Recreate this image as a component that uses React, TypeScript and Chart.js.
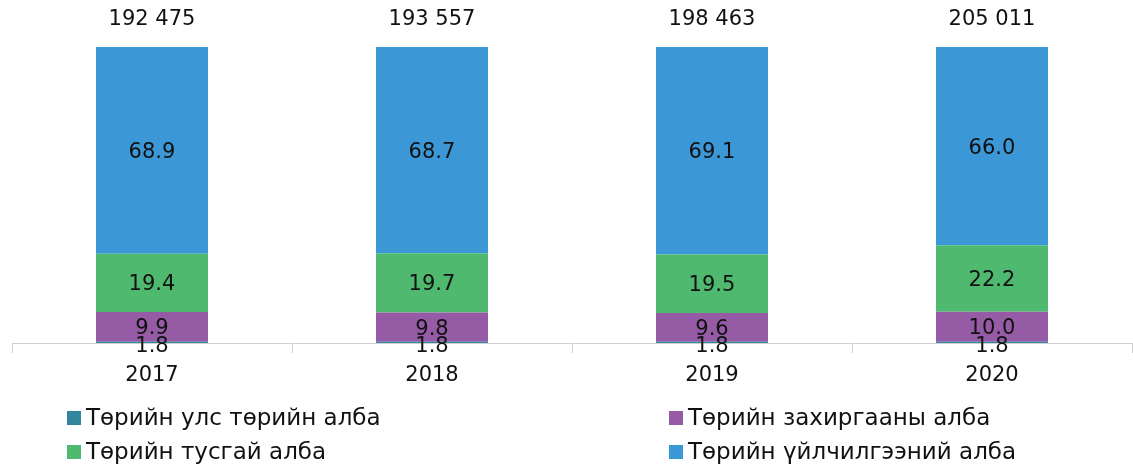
import React, { useEffect, useRef } from "react";
import { Chart, registerables } from "chart.js";

Chart.register(...registerables);

const categories = ["2017", "2018", "2019", "2020"];
const totals = ["192 475", "193 557", "198 463", "205 011"];
const seriesNames = [
  "Төрийн улс төрийн алба",
  "Төрийн захиргааны алба",
  "Төрийн тусгай алба",
  "Төрийн үйлчилгээний алба",
];
const politicalService = [1.8, 1.8, 1.8, 1.8];
const administrativeService = [9.9, 9.8, 9.6, 10.0];
const specialService = [19.4, 19.7, 19.5, 22.2];
const publicService = [68.9, 68.7, 69.1, 66.0];
const seriesColors = ["#31859C", "#955BA5", "#4FBA6F", "#3C97D6"];

const FONT = "'DejaVu Sans', 'Noto Sans', sans-serif";
const TEXT = "#111111";

const labelsPlugin = {
  id: "labelsPlugin",
  afterDatasetsDraw(chart: any) {
    const ctx = chart.ctx;
    ctx.save();
    ctx.font = `21px ${FONT}`;
    ctx.fillStyle = TEXT;
    ctx.textAlign = "center";
    ctx.textBaseline = "middle";
    chart.data.datasets.forEach((ds: any, di: number) => {
      const meta = chart.getDatasetMeta(di);
      meta.data.forEach((bar: any, i: number) => {
        const v = ds.data[i];
        const y = (bar.y + bar.base) / 2;
        ctx.fillText(v.toFixed(1), bar.x, y + 2);
      });
    });
    const lastMeta = chart.getDatasetMeta(chart.data.datasets.length - 1);
    lastMeta.data.forEach((bar: any, i: number) => {
      ctx.fillText(totals[i], bar.x, bar.y - 27);
    });
    ctx.restore();
  },
};

const legendPlugin = {
  id: "customLegend",
  afterDraw(chart: any) {
    const ctx = chart.ctx;
    ctx.save();
    ctx.font = `23px ${FONT}`;
    ctx.textBaseline = "middle";
    ctx.textAlign = "left";
    const cols = [67, 669];
    const rows = [418, 452];
    chart.data.datasets.forEach((ds: any, i: number) => {
      const x = cols[i % 2];
      const y = rows[Math.floor(i / 2)];
      ctx.fillStyle = ds.backgroundColor;
      ctx.fillRect(x, y - 7, 14, 14);
      ctx.fillStyle = TEXT;
      ctx.fillText(ds.label, x + 19, y + 1);
    });
    ctx.restore();
  },
};

export default function App() {
  const ref = useRef<HTMLCanvasElement>(null);
  useEffect(() => {
    document.body.style.margin = "0";
    const seriesData = [politicalService, administrativeService, specialService, publicService];
    const chart = new Chart(ref.current as HTMLCanvasElement, {
      type: "bar",
      data: {
        labels: categories,
        datasets: seriesNames.map((name, i) => ({
          label: name,
          data: seriesData[i],
          backgroundColor: seriesColors[i],
          borderWidth: 0,
          barPercentage: 0.4,
          categoryPercentage: 1,
        })),
      },
      options: {
        animation: false,
        responsive: false,
        maintainAspectRatio: false,
        layout: { padding: { left: 12, right: 1, top: 47, bottom: 0 } },
        plugins: { legend: { display: false }, tooltip: { enabled: false } },
        scales: {
          x: {
            stacked: true,
            afterFit: (scale: any) => {
              scale.height = 122;
            },
            grid: {
              offset: true,
              drawOnChartArea: false,
              drawTicks: true,
              tickLength: 10,
              color: "#d0d0d0",
            },
            border: { color: "#d0d0d0", width: 1 },
            ticks: {
              color: TEXT,
              font: { family: FONT, size: 21 },
              padding: 10,
            },
          },
          y: {
            stacked: true,
            display: false,
            min: 1.4,
            max: 100,
          },
        },
      },
      plugins: [labelsPlugin, legendPlugin],
    });
    return () => chart.destroy();
  }, []);
  return <canvas ref={ref} width={1133} height={465} style={{ display: "block" }} />;
}
